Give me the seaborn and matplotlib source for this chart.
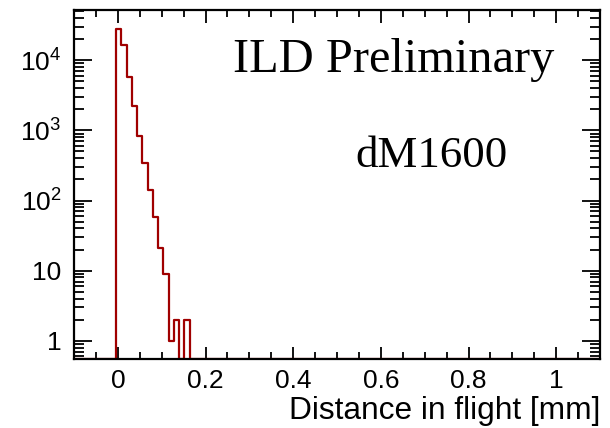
import numpy as np
import pandas as pd
import matplotlib
matplotlib.use("Agg")
import matplotlib.pyplot as plt
import seaborn as sns
from matplotlib.ticker import FixedLocator, FixedFormatter, LogLocator, NullFormatter, MultipleLocator

# ---- data ----
n_bins = 100
x_min, x_max = -0.1, 1.1
nonzero_first_bin = 8
nonzero_counts = [27700, 16700, 5780, 2200, 820, 341, 139, 59, 21, 9, 1, 2, 0, 2]
x_ticks = [0, 0.2, 0.4, 0.6, 0.8, 1.0]
x_tick_labels = ["0", "0.2", "0.4", "0.6", "0.8", "1"]
y_ticks = [1, 10, 100, 1000, 10000]
y_tick_labels = ["1", "10", r"$10^{2}$", r"$10^{3}$", r"$10^{4}$"]
x_label = "Distance in flight [mm]"
title_text = "ILD Preliminary"
sample_text = "dM1600"

counts = np.zeros(n_bins)
counts[nonzero_first_bin:nonzero_first_bin + len(nonzero_counts)] = nonzero_counts
edges = np.linspace(x_min, x_max, n_bins + 1)
centers = 0.5 * (edges[:-1] + edges[1:])

y_lo, y_hi = 0.55, 5.2e4

sns.set_theme(style="ticks")
plt.rcParams["font.family"] = ["Liberation Sans", "DejaVu Sans"]
plt.rcParams["mathtext.fontset"] = "custom"
plt.rcParams["mathtext.rm"] = "Liberation Sans"
plt.rcParams["mathtext.it"] = "Liberation Sans"
plt.rcParams["text.color"] = "black"
plt.rcParams["axes.labelcolor"] = "black"

fig = plt.figure(figsize=(6.10, 4.28), dpi=100)
ax = fig.add_axes([74/610, 1 - 359/428, (600-74)/610, (359-10)/428])

# draw empty bins at the axis floor like ROOT does
df = pd.DataFrame({"x": centers, "w": np.where(counts > 0, counts, y_lo * 1.01)})
sns.histplot(data=df, x="x", weights="w", bins=n_bins, binrange=(x_min, x_max),
             element="step", fill=False, color="#a00000", linewidth=1.6, ax=ax)
ax.set_yscale("log")
ax.set_xlim(x_min, x_max)
ax.set_ylim(y_lo, y_hi)

ax.xaxis.set_major_locator(FixedLocator(x_ticks))
ax.xaxis.set_major_formatter(FixedFormatter(x_tick_labels))
ax.xaxis.set_minor_locator(MultipleLocator(0.05))
ax.yaxis.set_major_locator(FixedLocator(y_ticks))
ax.yaxis.set_major_formatter(FixedFormatter(y_tick_labels))
ax.yaxis.set_minor_locator(LogLocator(base=10, subs=np.arange(2, 10)))
ax.yaxis.set_minor_formatter(NullFormatter())

ax.tick_params(which="both", direction="in", top=True, right=True, colors="black",
               labelcolor="black", labelsize=19, width=1.3)
ax.tick_params(axis="y", which="major", length=13, pad=9)
ax.tick_params(axis="y", which="minor", length=7)
ax.tick_params(axis="x", which="major", length=9, pad=7)
ax.tick_params(axis="x", which="minor", length=5)
for s in ax.spines.values():
    s.set_linewidth(1.6)
    s.set_color("black")

ax.set_ylabel("")
ax.set_xlabel(x_label, fontsize=22.8, loc="right", labelpad=2, color="black")

fig.text(233/610, 1 - 72/428, title_text, family=["Liberation Serif", "DejaVu Serif"],
         fontsize=34.8, ha="left", va="baseline", color="black")
fig.text(355/610, 1 - 167/428, sample_text, family=["Liberation Serif", "DejaVu Serif"],
         fontsize=32.3, ha="left", va="baseline", color="black")

fig.savefig("out.png", dpi=100)
